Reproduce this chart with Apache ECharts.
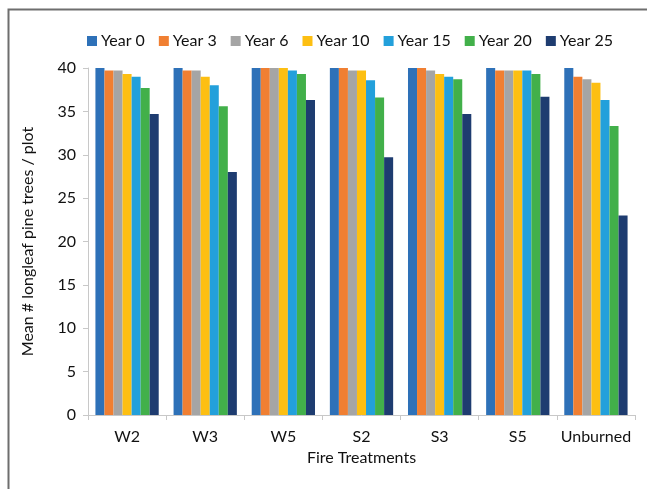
<!DOCTYPE html>
<html>
<head>
<meta charset="utf-8">
<script src="https://cdn.jsdelivr.net/npm/echarts@6/dist/echarts.min.js"></script>
<style>
  html, body { margin: 0; padding: 0; background: #fff; }
  #chart { width: 647px; height: 489px; }
</style>
</head>
<body>
<div id="chart"></div>
<script>
// treatments along the x axis
const treatments = ['W2', 'W3', 'W5', 'S2', 'S3', 'S5', 'Unburned']
const years = ['Year 0', 'Year 3', 'Year 6', 'Year 10', 'Year 15', 'Year 20', 'Year 25']

// mean # longleaf pine trees per plot, one array per year
const year0 = [40, 40, 40, 40, 40, 40, 40]
const year3 = [39.7, 39.7, 40, 40, 40, 39.7, 39.0]
const year6 = [39.7, 39.7, 40, 39.7, 39.7, 39.7, 38.7]
const year10 = [39.3, 39.0, 40, 39.7, 39.3, 39.7, 38.3]
const year15 = [39.0, 38.0, 39.7, 38.6, 39.0, 39.7, 36.3]
const year20 = [37.7, 35.6, 39.3, 36.6, 38.7, 39.3, 33.3]
const year25 = [34.7, 28.0, 36.3, 29.7, 34.7, 36.7, 23.0]

const yTicks = [0, 5, 10, 15, 20, 25, 30, 35, 40]

const colors = ['#2E71B8', '#F07F32', '#A5A5A5', '#FDBF12', '#23A0DB', '#42B04A', '#1E3C70']
const values = [year0, year3, year6, year10, year15, year20, year25]

const font = 'Lato, "Open Sans", sans-serif'

const chart = echarts.init(document.getElementById('chart'), null, { renderer: 'canvas' })

chart.setOption({
  animation: false,
  color: colors,
  textStyle: { fontFamily: font, color: '#222' },
  legend: {
    top: 28,
    left: 82,
    itemWidth: 10,
    itemHeight: 10,
    itemGap: 14,
    icon: 'rect',
    textStyle: { fontSize: 16, color: '#111', fontFamily: font, padding: [0, 0, 0, -1] },
    data: years
  },
  grid: { left: 88, right: 12, top: 68, bottom: 74 },
  xAxis: {
    type: 'category',
    data: treatments,
    name: 'Fire Treatments',
    nameLocation: 'middle',
    nameGap: 34,
    nameTextStyle: { fontSize: 16, color: '#111' },
    axisLine: { lineStyle: { color: '#C8C8C8' } },
    axisTick: { show: true, length: 5, lineStyle: { color: '#C8C8C8' } },
    axisLabel: { fontSize: 16, color: '#111', margin: 14, interval: 0 }
  },
  yAxis: {
    type: 'value',
    min: yTicks[0],
    max: yTicks[yTicks.length - 1],
    interval: 5,
    name: 'Mean # longleaf pine trees / plot',
    nameLocation: 'middle',
    nameGap: 52,
    nameTextStyle: { fontSize: 16, color: '#111' },
    axisLine: { show: true, lineStyle: { color: '#C8C8C8' } },
    axisTick: { show: true, length: 5, lineStyle: { color: '#C8C8C8' } },
    axisLabel: { fontSize: 16, color: '#111', margin: 12 },
    splitLine: { show: false }
  },
  series: years.map((name, i) => ({
    name,
    type: 'bar',
    data: values[i],
    barGap: '0%',
    barCategoryGap: '19%'
  })),
  graphic: [{
    type: 'rect',
    left: 6,
    top: 7,
    shape: { width: 700, height: 520 },
    style: { fill: 'none', stroke: '#6E6E6E', lineWidth: 2 },
    silent: true
  }]
})
</script>
</body>
</html>
